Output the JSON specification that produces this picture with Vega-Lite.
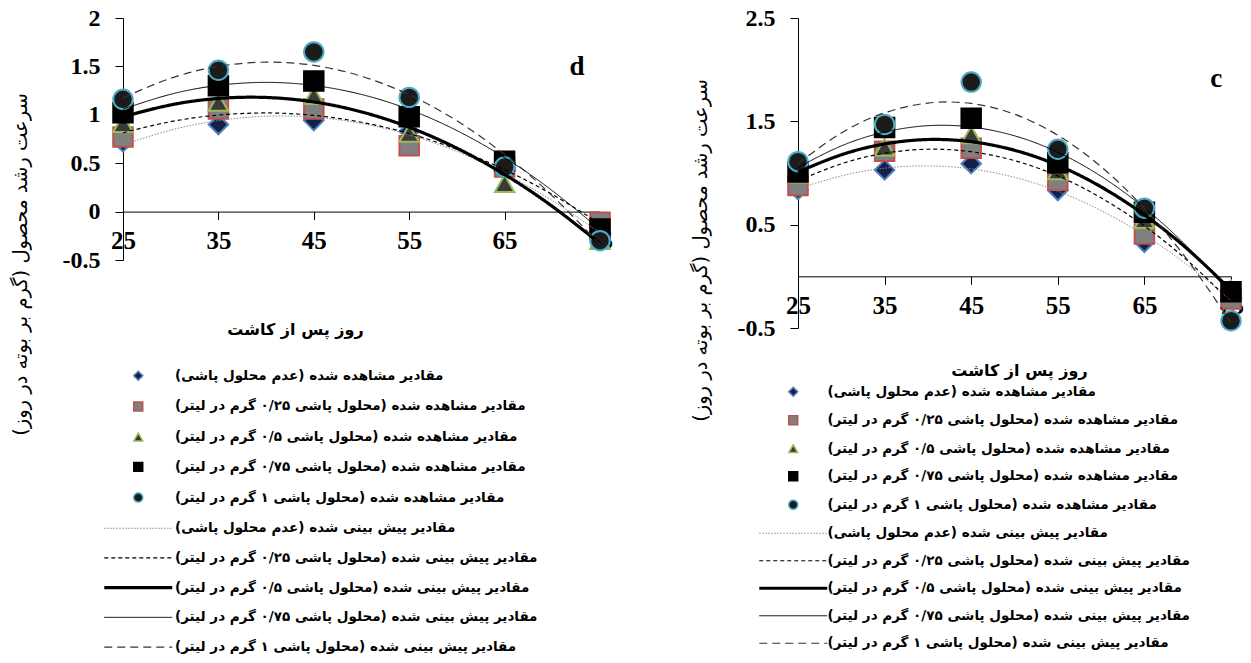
{
  "$schema": "https://vega.github.io/schema/vega-lite/v6.json",
  "padding": {"left": 10, "top": 6, "right": 5, "bottom": 0},
  "spacing": 76,
  "datasets": {
    "obs_d": [
      {"series": "مقادیر مشاهده شده (عدم محلول پاشی)", "day": 25, "value": 0.72},
      {"series": "مقادیر مشاهده شده (عدم محلول پاشی)", "day": 35, "value": 0.90},
      {"series": "مقادیر مشاهده شده (عدم محلول پاشی)", "day": 45, "value": 0.94},
      {"series": "مقادیر مشاهده شده (عدم محلول پاشی)", "day": 55, "value": 0.83},
      {"series": "مقادیر مشاهده شده (عدم محلول پاشی)", "day": 65, "value": 0.43},
      {"series": "مقادیر مشاهده شده (عدم محلول پاشی)", "day": 75, "value": -0.25},
      {"series": "مقادیر مشاهده شده (محلول پاشی ۰/۲۵ گرم در لیتر)", "day": 25, "value": 0.77},
      {"series": "مقادیر مشاهده شده (محلول پاشی ۰/۲۵ گرم در لیتر)", "day": 35, "value": 1.06},
      {"series": "مقادیر مشاهده شده (محلول پاشی ۰/۲۵ گرم در لیتر)", "day": 45, "value": 1.06},
      {"series": "مقادیر مشاهده شده (محلول پاشی ۰/۲۵ گرم در لیتر)", "day": 55, "value": 0.68},
      {"series": "مقادیر مشاهده شده (محلول پاشی ۰/۲۵ گرم در لیتر)", "day": 65, "value": 0.46},
      {"series": "مقادیر مشاهده شده (محلول پاشی ۰/۲۵ گرم در لیتر)", "day": 75, "value": -0.11},
      {"series": "مقادیر مشاهده شده (محلول پاشی ۰/۵ گرم در لیتر)", "day": 25, "value": 0.91},
      {"series": "مقادیر مشاهده شده (محلول پاشی ۰/۵ گرم در لیتر)", "day": 35, "value": 1.13},
      {"series": "مقادیر مشاهده شده (محلول پاشی ۰/۵ گرم در لیتر)", "day": 45, "value": 1.20},
      {"series": "مقادیر مشاهده شده (محلول پاشی ۰/۵ گرم در لیتر)", "day": 55, "value": 0.81},
      {"series": "مقادیر مشاهده شده (محلول پاشی ۰/۵ گرم در لیتر)", "day": 65, "value": 0.29},
      {"series": "مقادیر مشاهده شده (محلول پاشی ۰/۵ گرم در لیتر)", "day": 75, "value": -0.30},
      {"series": "مقادیر مشاهده شده (محلول پاشی ۰/۷۵ گرم در لیتر)", "day": 25, "value": 1.02},
      {"series": "مقادیر مشاهده شده (محلول پاشی ۰/۷۵ گرم در لیتر)", "day": 35, "value": 1.30},
      {"series": "مقادیر مشاهده شده (محلول پاشی ۰/۷۵ گرم در لیتر)", "day": 45, "value": 1.35},
      {"series": "مقادیر مشاهده شده (محلول پاشی ۰/۷۵ گرم در لیتر)", "day": 55, "value": 0.98},
      {"series": "مقادیر مشاهده شده (محلول پاشی ۰/۷۵ گرم در لیتر)", "day": 65, "value": 0.52},
      {"series": "مقادیر مشاهده شده (محلول پاشی ۰/۷۵ گرم در لیتر)", "day": 75, "value": -0.18},
      {"series": "مقادیر مشاهده شده (محلول پاشی ۱ گرم در لیتر)", "day": 25, "value": 1.16},
      {"series": "مقادیر مشاهده شده (محلول پاشی ۱ گرم در لیتر)", "day": 35, "value": 1.46},
      {"series": "مقادیر مشاهده شده (محلول پاشی ۱ گرم در لیتر)", "day": 45, "value": 1.65},
      {"series": "مقادیر مشاهده شده (محلول پاشی ۱ گرم در لیتر)", "day": 55, "value": 1.18},
      {"series": "مقادیر مشاهده شده (محلول پاشی ۱ گرم در لیتر)", "day": 65, "value": 0.46},
      {"series": "مقادیر مشاهده شده (محلول پاشی ۱ گرم در لیتر)", "day": 75, "value": -0.30}
    ],
    "pred_d": [
      {"series": "مقادیر پیش بینی شده (عدم محلول پاشی)", "day": 25, "value": 0.690},
      {"series": "مقادیر پیش بینی شده (عدم محلول پاشی)", "day": 30, "value": 0.842},
      {"series": "مقادیر پیش بینی شده (عدم محلول پاشی)", "day": 35, "value": 0.940},
      {"series": "مقادیر پیش بینی شده (عدم محلول پاشی)", "day": 40, "value": 0.985},
      {"series": "مقادیر پیش بینی شده (عدم محلول پاشی)", "day": 45, "value": 0.975},
      {"series": "مقادیر پیش بینی شده (عدم محلول پاشی)", "day": 50, "value": 0.911},
      {"series": "مقادیر پیش بینی شده (عدم محلول پاشی)", "day": 55, "value": 0.793},
      {"series": "مقادیر پیش بینی شده (عدم محلول پاشی)", "day": 60, "value": 0.621},
      {"series": "مقادیر پیش بینی شده (عدم محلول پاشی)", "day": 65, "value": 0.394},
      {"series": "مقادیر پیش بینی شده (عدم محلول پاشی)", "day": 70, "value": 0.114},
      {"series": "مقادیر پیش بینی شده (عدم محلول پاشی)", "day": 75, "value": -0.220},
      {"series": "مقادیر پیش بینی شده (محلول پاشی ۰/۲۵ گرم در لیتر)", "day": 25, "value": 0.815},
      {"series": "مقادیر پیش بینی شده (محلول پاشی ۰/۲۵ گرم در لیتر)", "day": 30, "value": 0.929},
      {"series": "مقادیر پیش بینی شده (محلول پاشی ۰/۲۵ گرم در لیتر)", "day": 35, "value": 0.997},
      {"series": "مقادیر پیش بینی شده (محلول پاشی ۰/۲۵ گرم در لیتر)", "day": 40, "value": 1.019},
      {"series": "مقادیر پیش بینی شده (محلول پاشی ۰/۲۵ گرم در لیتر)", "day": 45, "value": 0.994},
      {"series": "مقادیر پیش بینی شده (محلول پاشی ۰/۲۵ گرم در لیتر)", "day": 50, "value": 0.923},
      {"series": "مقادیر پیش بینی شده (محلول پاشی ۰/۲۵ گرم در لیتر)", "day": 55, "value": 0.806},
      {"series": "مقادیر پیش بینی شده (محلول پاشی ۰/۲۵ گرم در لیتر)", "day": 60, "value": 0.643},
      {"series": "مقادیر پیش بینی شده (محلول پاشی ۰/۲۵ گرم در لیتر)", "day": 65, "value": 0.433},
      {"series": "مقادیر پیش بینی شده (محلول پاشی ۰/۲۵ گرم در لیتر)", "day": 70, "value": 0.177},
      {"series": "مقادیر پیش بینی شده (محلول پاشی ۰/۲۵ گرم در لیتر)", "day": 75, "value": -0.125},
      {"series": "مقادیر پیش بینی شده (محلول پاشی ۰/۵ گرم در لیتر)", "day": 25, "value": 0.979},
      {"series": "مقادیر پیش بینی شده (محلول پاشی ۰/۵ گرم در لیتر)", "day": 30, "value": 1.102},
      {"series": "مقادیر پیش بینی شده (محلول پاشی ۰/۵ گرم در لیتر)", "day": 35, "value": 1.169},
      {"series": "مقادیر پیش بینی شده (محلول پاشی ۰/۵ گرم در لیتر)", "day": 40, "value": 1.179},
      {"series": "مقادیر پیش بینی شده (محلول پاشی ۰/۵ گرم در لیتر)", "day": 45, "value": 1.133},
      {"series": "مقادیر پیش بینی شده (محلول پاشی ۰/۵ گرم در لیتر)", "day": 50, "value": 1.030},
      {"series": "مقادیر پیش بینی شده (محلول پاشی ۰/۵ گرم در لیتر)", "day": 55, "value": 0.871},
      {"series": "مقادیر پیش بینی شده (محلول پاشی ۰/۵ گرم در لیتر)", "day": 60, "value": 0.655},
      {"series": "مقادیر پیش بینی شده (محلول پاشی ۰/۵ گرم در لیتر)", "day": 65, "value": 0.383},
      {"series": "مقادیر پیش بینی شده (محلول پاشی ۰/۵ گرم در لیتر)", "day": 70, "value": 0.054},
      {"series": "مقادیر پیش بینی شده (محلول پاشی ۰/۵ گرم در لیتر)", "day": 75, "value": -0.331},
      {"series": "مقادیر پیش بینی شده (محلول پاشی ۰/۷۵ گرم در لیتر)", "day": 25, "value": 1.058},
      {"series": "مقادیر پیش بینی شده (محلول پاشی ۰/۷۵ گرم در لیتر)", "day": 30, "value": 1.212},
      {"series": "مقادیر پیش بینی شده (محلول پاشی ۰/۷۵ گرم در لیتر)", "day": 35, "value": 1.304},
      {"series": "مقادیر پیش بینی شده (محلول پاشی ۰/۷۵ گرم در لیتر)", "day": 40, "value": 1.335},
      {"series": "مقادیر پیش بینی شده (محلول پاشی ۰/۷۵ گرم در لیتر)", "day": 45, "value": 1.303},
      {"series": "مقادیر پیش بینی شده (محلول پاشی ۰/۷۵ گرم در لیتر)", "day": 50, "value": 1.210},
      {"series": "مقادیر پیش بینی شده (محلول پاشی ۰/۷۵ گرم در لیتر)", "day": 55, "value": 1.055},
      {"series": "مقادیر پیش بینی شده (محلول پاشی ۰/۷۵ گرم در لیتر)", "day": 60, "value": 0.837},
      {"series": "مقادیر پیش بینی شده (محلول پاشی ۰/۷۵ گرم در لیتر)", "day": 65, "value": 0.558},
      {"series": "مقادیر پیش بینی شده (محلول پاشی ۰/۷۵ گرم در لیتر)", "day": 70, "value": 0.216},
      {"series": "مقادیر پیش بینی شده (محلول پاشی ۰/۷۵ گرم در لیتر)", "day": 75, "value": -0.186},
      {"series": "مقادیر پیش بینی شده (محلول پاشی ۱ گرم در لیتر)", "day": 25, "value": 1.175},
      {"series": "مقادیر پیش بینی شده (محلول پاشی ۱ گرم در لیتر)", "day": 30, "value": 1.377},
      {"series": "مقادیر پیش بینی شده (محلول پاشی ۱ گرم در لیتر)", "day": 35, "value": 1.500},
      {"series": "مقادیر پیش بینی شده (محلول پاشی ۱ گرم در لیتر)", "day": 40, "value": 1.544},
      {"series": "مقادیر پیش بینی شده (محلول پاشی ۱ گرم در لیتر)", "day": 45, "value": 1.511},
      {"series": "مقادیر پیش بینی شده (محلول پاشی ۱ گرم در لیتر)", "day": 50, "value": 1.398},
      {"series": "مقادیر پیش بینی شده (محلول پاشی ۱ گرم در لیتر)", "day": 55, "value": 1.207},
      {"series": "مقادیر پیش بینی شده (محلول پاشی ۱ گرم در لیتر)", "day": 60, "value": 0.938},
      {"series": "مقادیر پیش بینی شده (محلول پاشی ۱ گرم در لیتر)", "day": 65, "value": 0.590},
      {"series": "مقادیر پیش بینی شده (محلول پاشی ۱ گرم در لیتر)", "day": 70, "value": 0.163},
      {"series": "مقادیر پیش بینی شده (محلول پاشی ۱ گرم در لیتر)", "day": 75, "value": -0.342}
    ],
    "obs_c": [
      {"series": "مقادیر مشاهده شده (عدم محلول پاشی)", "day": 25, "value": 0.84},
      {"series": "مقادیر مشاهده شده (عدم محلول پاشی)", "day": 35, "value": 1.03},
      {"series": "مقادیر مشاهده شده (عدم محلول پاشی)", "day": 45, "value": 1.09},
      {"series": "مقادیر مشاهده شده (عدم محلول پاشی)", "day": 55, "value": 0.83},
      {"series": "مقادیر مشاهده شده (عدم محلول پاشی)", "day": 65, "value": 0.33},
      {"series": "مقادیر مشاهده شده (عدم محلول پاشی)", "day": 75, "value": -0.20},
      {"series": "مقادیر مشاهده شده (محلول پاشی ۰/۲۵ گرم در لیتر)", "day": 25, "value": 0.88},
      {"series": "مقادیر مشاهده شده (محلول پاشی ۰/۲۵ گرم در لیتر)", "day": 35, "value": 1.21},
      {"series": "مقادیر مشاهده شده (محلول پاشی ۰/۲۵ گرم در لیتر)", "day": 45, "value": 1.24},
      {"series": "مقادیر مشاهده شده (محلول پاشی ۰/۲۵ گرم در لیتر)", "day": 55, "value": 0.93},
      {"series": "مقادیر مشاهده شده (محلول پاشی ۰/۲۵ گرم در لیتر)", "day": 65, "value": 0.41},
      {"series": "مقادیر مشاهده شده (محلول پاشی ۰/۲۵ گرم در لیتر)", "day": 75, "value": -0.22},
      {"series": "مقادیر مشاهده شده (محلول پاشی ۰/۵ گرم در لیتر)", "day": 25, "value": 0.99},
      {"series": "مقادیر مشاهده شده (محلول پاشی ۰/۵ گرم در لیتر)", "day": 35, "value": 1.25},
      {"series": "مقادیر مشاهده شده (محلول پاشی ۰/۵ گرم در لیتر)", "day": 45, "value": 1.37},
      {"series": "مقادیر مشاهده شده (محلول پاشی ۰/۵ گرم در لیتر)", "day": 55, "value": 1.02},
      {"series": "مقادیر مشاهده شده (محلول پاشی ۰/۵ گرم در لیتر)", "day": 65, "value": 0.55},
      {"series": "مقادیر مشاهده شده (محلول پاشی ۰/۵ گرم در لیتر)", "day": 75, "value": -0.12},
      {"series": "مقادیر مشاهده شده (محلول پاشی ۰/۷۵ گرم در لیتر)", "day": 25, "value": 1.01},
      {"series": "مقادیر مشاهده شده (محلول پاشی ۰/۷۵ گرم در لیتر)", "day": 35, "value": 1.44},
      {"series": "مقادیر مشاهده شده (محلول پاشی ۰/۷۵ گرم در لیتر)", "day": 45, "value": 1.53},
      {"series": "مقادیر مشاهده شده (محلول پاشی ۰/۷۵ گرم در لیتر)", "day": 55, "value": 1.10},
      {"series": "مقادیر مشاهده شده (محلول پاشی ۰/۷۵ گرم در لیتر)", "day": 65, "value": 0.62},
      {"series": "مقادیر مشاهده شده (محلول پاشی ۰/۷۵ گرم در لیتر)", "day": 75, "value": -0.15},
      {"series": "مقادیر مشاهده شده (محلول پاشی ۱ گرم در لیتر)", "day": 25, "value": 1.11},
      {"series": "مقادیر مشاهده شده (محلول پاشی ۱ گرم در لیتر)", "day": 35, "value": 1.47},
      {"series": "مقادیر مشاهده شده (محلول پاشی ۱ گرم در لیتر)", "day": 45, "value": 1.88},
      {"series": "مقادیر مشاهده شده (محلول پاشی ۱ گرم در لیتر)", "day": 55, "value": 1.23},
      {"series": "مقادیر مشاهده شده (محلول پاشی ۱ گرم در لیتر)", "day": 65, "value": 0.66},
      {"series": "مقادیر مشاهده شده (محلول پاشی ۱ گرم در لیتر)", "day": 75, "value": -0.43}
    ],
    "pred_c": [
      {"series": "مقادیر پیش بینی شده (عدم محلول پاشی)", "day": 25, "value": 0.846},
      {"series": "مقادیر پیش بینی شده (عدم محلول پاشی)", "day": 30, "value": 0.972},
      {"series": "مقادیر پیش بینی شده (عدم محلول پاشی)", "day": 35, "value": 1.047},
      {"series": "مقادیر پیش بینی شده (عدم محلول پاشی)", "day": 40, "value": 1.069},
      {"series": "مقادیر پیش بینی شده (عدم محلول پاشی)", "day": 45, "value": 1.040},
      {"series": "مقادیر پیش بینی شده (عدم محلول پاشی)", "day": 50, "value": 0.958},
      {"series": "مقادیر پیش بینی شده (عدم محلول پاشی)", "day": 55, "value": 0.824},
      {"series": "مقادیر پیش بینی شده (عدم محلول پاشی)", "day": 60, "value": 0.637},
      {"series": "مقادیر پیش بینی شده (عدم محلول پاشی)", "day": 65, "value": 0.399},
      {"series": "مقادیر پیش بینی شده (عدم محلول پاشی)", "day": 70, "value": 0.108},
      {"series": "مقادیر پیش بینی شده (عدم محلول پاشی)", "day": 75, "value": -0.235},
      {"series": "مقادیر پیش بینی شده (محلول پاشی ۰/۲۵ گرم در لیتر)", "day": 25, "value": 0.925},
      {"series": "مقادیر پیش بینی شده (محلول پاشی ۰/۲۵ گرم در لیتر)", "day": 30, "value": 1.089},
      {"series": "مقادیر پیش بینی شده (محلول پاشی ۰/۲۵ گرم در لیتر)", "day": 35, "value": 1.191},
      {"series": "مقادیر پیش بینی شده (محلول پاشی ۰/۲۵ گرم در لیتر)", "day": 40, "value": 1.230},
      {"series": "مقادیر پیش بینی شده (محلول پاشی ۰/۲۵ گرم در لیتر)", "day": 45, "value": 1.206},
      {"series": "مقادیر پیش بینی شده (محلول پاشی ۰/۲۵ گرم در لیتر)", "day": 50, "value": 1.120},
      {"series": "مقادیر پیش بینی شده (محلول پاشی ۰/۲۵ گرم در لیتر)", "day": 55, "value": 0.972},
      {"series": "مقادیر پیش بینی شده (محلول پاشی ۰/۲۵ گرم در لیتر)", "day": 60, "value": 0.760},
      {"series": "مقادیر پیش بینی شده (محلول پاشی ۰/۲۵ گرم در لیتر)", "day": 65, "value": 0.487},
      {"series": "مقادیر پیش بینی شده (محلول پاشی ۰/۲۵ گرم در لیتر)", "day": 70, "value": 0.151},
      {"series": "مقادیر پیش بینی شده (محلول پاشی ۰/۲۵ گرم در لیتر)", "day": 75, "value": -0.248},
      {"series": "مقادیر پیش بینی شده (محلول پاشی ۰/۵ گرم در لیتر)", "day": 25, "value": 1.009},
      {"series": "مقادیر پیش بینی شده (محلول پاشی ۰/۵ گرم در لیتر)", "day": 30, "value": 1.176},
      {"series": "مقادیر پیش بینی شده (محلول پاشی ۰/۵ گرم در لیتر)", "day": 35, "value": 1.281},
      {"series": "مقادیر پیش بینی شده (محلول پاشی ۰/۵ گرم در لیتر)", "day": 40, "value": 1.324},
      {"series": "مقادیر پیش بینی شده (محلول پاشی ۰/۵ گرم در لیتر)", "day": 45, "value": 1.303},
      {"series": "مقادیر پیش بینی شده (محلول پاشی ۰/۵ گرم در لیتر)", "day": 50, "value": 1.220},
      {"series": "مقادیر پیش بینی شده (محلول پاشی ۰/۵ گرم در لیتر)", "day": 55, "value": 1.075},
      {"series": "مقادیر پیش بینی شده (محلول پاشی ۰/۵ گرم در لیتر)", "day": 60, "value": 0.866},
      {"series": "مقادیر پیش بینی شده (محلول پاشی ۰/۵ گرم در لیتر)", "day": 65, "value": 0.595},
      {"series": "مقادیر پیش بینی شده (محلول پاشی ۰/۵ گرم در لیتر)", "day": 70, "value": 0.262},
      {"series": "مقادیر پیش بینی شده (محلول پاشی ۰/۵ گرم در لیتر)", "day": 75, "value": -0.134},
      {"series": "مقادیر پیش بینی شده (محلول پاشی ۰/۷۵ گرم در لیتر)", "day": 25, "value": 1.053},
      {"series": "مقادیر پیش بینی شده (محلول پاشی ۰/۷۵ گرم در لیتر)", "day": 30, "value": 1.262},
      {"series": "مقادیر پیش بینی شده (محلول پاشی ۰/۷۵ گرم در لیتر)", "day": 35, "value": 1.396},
      {"series": "مقادیر پیش بینی شده (محلول پاشی ۰/۷۵ گرم در لیتر)", "day": 40, "value": 1.458},
      {"series": "مقادیر پیش بینی شده (محلول پاشی ۰/۷۵ گرم در لیتر)", "day": 45, "value": 1.445},
      {"series": "مقادیر پیش بینی شده (محلول پاشی ۰/۷۵ گرم در لیتر)", "day": 50, "value": 1.360},
      {"series": "مقادیر پیش بینی شده (محلول پاشی ۰/۷۵ گرم در لیتر)", "day": 55, "value": 1.201},
      {"series": "مقادیر پیش بینی شده (محلول پاشی ۰/۷۵ گرم در لیتر)", "day": 60, "value": 0.968},
      {"series": "مقادیر پیش بینی شده (محلول پاشی ۰/۷۵ گرم در لیتر)", "day": 65, "value": 0.662},
      {"series": "مقادیر پیش بینی شده (محلول پاشی ۰/۷۵ گرم در لیتر)", "day": 70, "value": 0.282},
      {"series": "مقادیر پیش بینی شده (محلول پاشی ۰/۷۵ گرم در لیتر)", "day": 75, "value": -0.171},
      {"series": "مقادیر پیش بینی شده (محلول پاشی ۱ گرم در لیتر)", "day": 25, "value": 1.092},
      {"series": "مقادیر پیش بینی شده (محلول پاشی ۱ گرم در لیتر)", "day": 30, "value": 1.387},
      {"series": "مقادیر پیش بینی شده (محلول پاشی ۱ گرم در لیتر)", "day": 35, "value": 1.582},
      {"series": "مقادیر پیش بینی شده (محلول پاشی ۱ گرم در لیتر)", "day": 40, "value": 1.677},
      {"series": "مقادیر پیش بینی شده (محلول پاشی ۱ گرم در لیتر)", "day": 45, "value": 1.673},
      {"series": "مقادیر پیش بینی شده (محلول پاشی ۱ گرم در لیتر)", "day": 50, "value": 1.569},
      {"series": "مقادیر پیش بینی شده (محلول پاشی ۱ گرم در لیتر)", "day": 55, "value": 1.365},
      {"series": "مقادیر پیش بینی شده (محلول پاشی ۱ گرم در لیتر)", "day": 60, "value": 1.061},
      {"series": "مقادیر پیش بینی شده (محلول پاشی ۱ گرم در لیتر)", "day": 65, "value": 0.658},
      {"series": "مقادیر پیش بینی شده (محلول پاشی ۱ گرم در لیتر)", "day": 70, "value": 0.155},
      {"series": "مقادیر پیش بینی شده (محلول پاشی ۱ گرم در لیتر)", "day": 75, "value": -0.449}
    ]
  },
  "hconcat": [
    {
      "width": 477,
      "height": 242,
      "encoding": {
        "x": {"field": "day", "type": "quantitative", "scale": {"domain": [25, 75], "nice": false, "zero": false},
          "axis": {"values": [25, 35, 45, 55, 65, 75], "offset": -48.4, "title": "روز پس از کاشت", "titleX": 172, "titleY": 118, "titleBaseline": "middle", "titleFont": "DejaVu Sans", "titleFontSize": 16, "titleFontWeight": "bold", "labelFontSize": 25, "tickSize": 8, "labelPadding": 9, "labelFlush": false, "labelOverlap": false}},
        "y": {"field": "value", "type": "quantitative", "scale": {"domain": [-0.5, 2], "nice": false, "zero": false},
          "axis": {"values": [-0.5, 0, 0.5, 1, 1.5, 2], "labelExpr": "'' + datum.value", "title": "سرعت رشد محصول (گرم بر بوته در روز)", "titleX": -103, "titleY": 246, "titleAngle": 270, "titleBaseline": "middle", "titleAlign": "center", "titleFont": "DejaVu Sans", "titleFontSize": 19.5, "titleFontWeight": "normal", "labelFontSize": 24, "tickSize": 8, "labelPadding": 15, "labelFlush": false, "labelOverlap": false}}
      },
      "layer": [
        {
          "data": {"name": "obs_d"},
          "mark": {"type": "point", "size": 380, "strokeWidth": 2, "opacity": 1},
          "encoding": {
            "shape": {"field": "series", "type": "nominal", "scale": {"domain": ["مقادیر مشاهده شده (عدم محلول پاشی)", "مقادیر مشاهده شده (محلول پاشی ۰/۲۵ گرم در لیتر)", "مقادیر مشاهده شده (محلول پاشی ۰/۵ گرم در لیتر)", "مقادیر مشاهده شده (محلول پاشی ۰/۷۵ گرم در لیتر)", "مقادیر مشاهده شده (محلول پاشی ۱ گرم در لیتر)", "مقادیر پیش بینی شده (عدم محلول پاشی)", "مقادیر پیش بینی شده (محلول پاشی ۰/۲۵ گرم در لیتر)", "مقادیر پیش بینی شده (محلول پاشی ۰/۵ گرم در لیتر)", "مقادیر پیش بینی شده (محلول پاشی ۰/۷۵ گرم در لیتر)", "مقادیر پیش بینی شده (محلول پاشی ۱ گرم در لیتر)"], "range": ["diamond", "square", "triangle-up", "square", "circle", "M-7.6,0H7.6", "M-7.6,0H7.6", "M-7.6,0H7.6", "M-7.6,0H7.6", "M-7.6,0H7.6"]},
              "legend": {"title": null, "orient": "none", "legendX": 8.5, "legendY": 351, "direction": "vertical", "padding": 0, "symbolSize": 80, "rowPadding": 14.7, "labelOffset": 30, "labelFont": "DejaVu Sans", "labelFontSize": 13.5, "labelFontWeight": "bold", "labelColor": "black", "labelLimit": 1000, "symbolLimit": 20}},
            "fill": {"field": "series", "type": "nominal", "scale": {"domain": ["مقادیر مشاهده شده (عدم محلول پاشی)", "مقادیر مشاهده شده (محلول پاشی ۰/۲۵ گرم در لیتر)", "مقادیر مشاهده شده (محلول پاشی ۰/۵ گرم در لیتر)", "مقادیر مشاهده شده (محلول پاشی ۰/۷۵ گرم در لیتر)", "مقادیر مشاهده شده (محلول پاشی ۱ گرم در لیتر)", "مقادیر پیش بینی شده (عدم محلول پاشی)", "مقادیر پیش بینی شده (محلول پاشی ۰/۲۵ گرم در لیتر)", "مقادیر پیش بینی شده (محلول پاشی ۰/۵ گرم در لیتر)", "مقادیر پیش بینی شده (محلول پاشی ۰/۷۵ گرم در لیتر)", "مقادیر پیش بینی شده (محلول پاشی ۱ گرم در لیتر)"], "range": ["#13204a", "#808080", "#3a3a3a", "#000000", "#1b1b1b", "transparent", "transparent", "transparent", "transparent", "transparent"]},
              "legend": {"title": null, "orient": "none", "legendX": 8.5, "legendY": 351, "direction": "vertical", "padding": 0, "symbolSize": 80, "rowPadding": 14.7, "labelOffset": 30, "labelFont": "DejaVu Sans", "labelFontSize": 13.5, "labelFontWeight": "bold", "labelColor": "black", "labelLimit": 1000, "symbolLimit": 20}},
            "stroke": {"field": "series", "type": "nominal", "scale": {"domain": ["مقادیر مشاهده شده (عدم محلول پاشی)", "مقادیر مشاهده شده (محلول پاشی ۰/۲۵ گرم در لیتر)", "مقادیر مشاهده شده (محلول پاشی ۰/۵ گرم در لیتر)", "مقادیر مشاهده شده (محلول پاشی ۰/۷۵ گرم در لیتر)", "مقادیر مشاهده شده (محلول پاشی ۱ گرم در لیتر)", "مقادیر پیش بینی شده (عدم محلول پاشی)", "مقادیر پیش بینی شده (محلول پاشی ۰/۲۵ گرم در لیتر)", "مقادیر پیش بینی شده (محلول پاشی ۰/۵ گرم در لیتر)", "مقادیر پیش بینی شده (محلول پاشی ۰/۷۵ گرم در لیتر)", "مقادیر پیش بینی شده (محلول پاشی ۱ گرم در لیتر)"], "range": ["#4f81bd", "#c0504d", "#9bbb59", "#000000", "#4bacc6", "#8c8c8c", "#000000", "#000000", "#000000", "#333333"]},
              "legend": {"title": null, "orient": "none", "legendX": 8.5, "legendY": 351, "direction": "vertical", "padding": 0, "symbolSize": 80, "rowPadding": 14.7, "labelOffset": 30, "labelFont": "DejaVu Sans", "labelFontSize": 13.5, "labelFontWeight": "bold", "labelColor": "black", "labelLimit": 1000, "symbolLimit": 20}}
          }
        },
        {
          "data": {"name": "pred_d"},
          "mark": {"type": "line", "interpolate": "natural"},
          "encoding": {
            "stroke": {"field": "series", "type": "nominal", "scale": {"domain": ["مقادیر مشاهده شده (عدم محلول پاشی)", "مقادیر مشاهده شده (محلول پاشی ۰/۲۵ گرم در لیتر)", "مقادیر مشاهده شده (محلول پاشی ۰/۵ گرم در لیتر)", "مقادیر مشاهده شده (محلول پاشی ۰/۷۵ گرم در لیتر)", "مقادیر مشاهده شده (محلول پاشی ۱ گرم در لیتر)", "مقادیر پیش بینی شده (عدم محلول پاشی)", "مقادیر پیش بینی شده (محلول پاشی ۰/۲۵ گرم در لیتر)", "مقادیر پیش بینی شده (محلول پاشی ۰/۵ گرم در لیتر)", "مقادیر پیش بینی شده (محلول پاشی ۰/۷۵ گرم در لیتر)", "مقادیر پیش بینی شده (محلول پاشی ۱ گرم در لیتر)"], "range": ["#4f81bd", "#c0504d", "#9bbb59", "#000000", "#4bacc6", "#8c8c8c", "#000000", "#000000", "#000000", "#333333"]},
              "legend": {"title": null, "orient": "none", "legendX": 8.5, "legendY": 351, "direction": "vertical", "padding": 0, "symbolSize": 80, "rowPadding": 14.7, "labelOffset": 30, "labelFont": "DejaVu Sans", "labelFontSize": 13.5, "labelFontWeight": "bold", "labelColor": "black", "labelLimit": 1000, "symbolLimit": 20}},
            "strokeDash": {"field": "series", "type": "nominal", "scale": {"domain": ["مقادیر مشاهده شده (عدم محلول پاشی)", "مقادیر مشاهده شده (محلول پاشی ۰/۲۵ گرم در لیتر)", "مقادیر مشاهده شده (محلول پاشی ۰/۵ گرم در لیتر)", "مقادیر مشاهده شده (محلول پاشی ۰/۷۵ گرم در لیتر)", "مقادیر مشاهده شده (محلول پاشی ۱ گرم در لیتر)", "مقادیر پیش بینی شده (عدم محلول پاشی)", "مقادیر پیش بینی شده (محلول پاشی ۰/۲۵ گرم در لیتر)", "مقادیر پیش بینی شده (محلول پاشی ۰/۵ گرم در لیتر)", "مقادیر پیش بینی شده (محلول پاشی ۰/۷۵ گرم در لیتر)", "مقادیر پیش بینی شده (محلول پاشی ۱ گرم در لیتر)"], "range": [[1, 0], [1, 0], [1, 0], [1, 0], [1, 0], [1.5, 1.5], [4, 3], [1, 0], [1, 0], [8, 5]]},
              "legend": {"title": null, "orient": "none", "legendX": 8.5, "legendY": 351, "direction": "vertical", "padding": 0, "symbolSize": 80, "rowPadding": 14.7, "labelOffset": 30, "labelFont": "DejaVu Sans", "labelFontSize": 13.5, "labelFontWeight": "bold", "labelColor": "black", "labelLimit": 1000, "symbolLimit": 20}},
            "strokeWidth": {"field": "series", "type": "nominal", "scale": {"type": "ordinal", "domain": ["مقادیر مشاهده شده (عدم محلول پاشی)", "مقادیر مشاهده شده (محلول پاشی ۰/۲۵ گرم در لیتر)", "مقادیر مشاهده شده (محلول پاشی ۰/۵ گرم در لیتر)", "مقادیر مشاهده شده (محلول پاشی ۰/۷۵ گرم در لیتر)", "مقادیر مشاهده شده (محلول پاشی ۱ گرم در لیتر)", "مقادیر پیش بینی شده (عدم محلول پاشی)", "مقادیر پیش بینی شده (محلول پاشی ۰/۲۵ گرم در لیتر)", "مقادیر پیش بینی شده (محلول پاشی ۰/۵ گرم در لیتر)", "مقادیر پیش بینی شده (محلول پاشی ۰/۷۵ گرم در لیتر)", "مقادیر پیش بینی شده (محلول پاشی ۱ گرم در لیتر)"], "range": [1.5, 1.5, 1.5, 1.5, 1.5, 1, 1.2, 3.2, 1, 1.2]},
              "legend": {"title": null, "orient": "none", "legendX": 8.5, "legendY": 351, "direction": "vertical", "padding": 0, "symbolSize": 80, "rowPadding": 14.7, "labelOffset": 30, "labelFont": "DejaVu Sans", "labelFontSize": 13.5, "labelFontWeight": "bold", "labelColor": "black", "labelLimit": 1000, "symbolLimit": 20}}
          }
        },
        {
          "data": {"values": [{"day": 72.6, "value": 1.49, "label": "d"}]},
          "mark": {"type": "text", "font": "Liberation Serif", "fontWeight": "bold", "fontSize": 27, "color": "black"},
          "encoding": {"text": {"field": "label", "type": "nominal"}}
        }
      ]
    },
    {
      "width": 433,
      "height": 310,
      "encoding": {
        "x": {"field": "day", "type": "quantitative", "scale": {"domain": [25, 75], "nice": false, "zero": false},
          "axis": {"values": [25, 35, 45, 55, 65, 75], "offset": -51.67, "title": "روز پس از کاشت", "titleX": 221, "titleY": 94, "titleBaseline": "middle", "titleFont": "DejaVu Sans", "titleFontSize": 16, "titleFontWeight": "bold", "labelFontSize": 25, "tickSize": 8, "labelPadding": 9, "labelFlush": false, "labelOverlap": false}},
        "y": {"field": "value", "type": "quantitative", "scale": {"domain": [-0.5, 2.5], "nice": false, "zero": false},
          "axis": {"values": [-0.5, 0.5, 1.5, 2.5], "labelExpr": "'' + datum.value", "title": "سرعت رشد محصول (گرم بر بوته در روز)", "titleX": -98, "titleY": 232, "titleAngle": 270, "titleBaseline": "middle", "titleAlign": "center", "titleFont": "DejaVu Sans", "titleFontSize": 19.5, "titleFontWeight": "normal", "labelFontSize": 24, "tickSize": 8, "labelPadding": 15, "labelFlush": false, "labelOverlap": false}}
      },
      "layer": [
        {
          "data": {"name": "obs_c"},
          "mark": {"type": "point", "size": 380, "strokeWidth": 2, "opacity": 1},
          "encoding": {
            "shape": {"field": "series", "type": "nominal", "scale": {"domain": ["مقادیر مشاهده شده (عدم محلول پاشی)", "مقادیر مشاهده شده (محلول پاشی ۰/۲۵ گرم در لیتر)", "مقادیر مشاهده شده (محلول پاشی ۰/۵ گرم در لیتر)", "مقادیر مشاهده شده (محلول پاشی ۰/۷۵ گرم در لیتر)", "مقادیر مشاهده شده (محلول پاشی ۱ گرم در لیتر)", "مقادیر پیش بینی شده (عدم محلول پاشی)", "مقادیر پیش بینی شده (محلول پاشی ۰/۲۵ گرم در لیتر)", "مقادیر پیش بینی شده (محلول پاشی ۰/۵ گرم در لیتر)", "مقادیر پیش بینی شده (محلول پاشی ۰/۷۵ گرم در لیتر)", "مقادیر پیش بینی شده (محلول پاشی ۱ گرم در لیتر)"], "range": ["diamond", "square", "triangle-up", "square", "circle", "M-7.6,0H7.6", "M-7.6,0H7.6", "M-7.6,0H7.6", "M-7.6,0H7.6", "M-7.6,0H7.6"]},
              "legend": {"title": null, "orient": "none", "legendX": -11.5, "legendY": 367, "direction": "vertical", "padding": 0, "symbolSize": 80, "rowPadding": 12.5, "labelOffset": 27.5, "labelFont": "DejaVu Sans", "labelFontSize": 13.5, "labelFontWeight": "bold", "labelColor": "black", "labelLimit": 1000, "symbolLimit": 20}},
            "fill": {"field": "series", "type": "nominal", "scale": {"domain": ["مقادیر مشاهده شده (عدم محلول پاشی)", "مقادیر مشاهده شده (محلول پاشی ۰/۲۵ گرم در لیتر)", "مقادیر مشاهده شده (محلول پاشی ۰/۵ گرم در لیتر)", "مقادیر مشاهده شده (محلول پاشی ۰/۷۵ گرم در لیتر)", "مقادیر مشاهده شده (محلول پاشی ۱ گرم در لیتر)", "مقادیر پیش بینی شده (عدم محلول پاشی)", "مقادیر پیش بینی شده (محلول پاشی ۰/۲۵ گرم در لیتر)", "مقادیر پیش بینی شده (محلول پاشی ۰/۵ گرم در لیتر)", "مقادیر پیش بینی شده (محلول پاشی ۰/۷۵ گرم در لیتر)", "مقادیر پیش بینی شده (محلول پاشی ۱ گرم در لیتر)"], "range": ["#13204a", "#808080", "#3a3a3a", "#000000", "#1b1b1b", "transparent", "transparent", "transparent", "transparent", "transparent"]},
              "legend": {"title": null, "orient": "none", "legendX": -11.5, "legendY": 367, "direction": "vertical", "padding": 0, "symbolSize": 80, "rowPadding": 12.5, "labelOffset": 27.5, "labelFont": "DejaVu Sans", "labelFontSize": 13.5, "labelFontWeight": "bold", "labelColor": "black", "labelLimit": 1000, "symbolLimit": 20}},
            "stroke": {"field": "series", "type": "nominal", "scale": {"domain": ["مقادیر مشاهده شده (عدم محلول پاشی)", "مقادیر مشاهده شده (محلول پاشی ۰/۲۵ گرم در لیتر)", "مقادیر مشاهده شده (محلول پاشی ۰/۵ گرم در لیتر)", "مقادیر مشاهده شده (محلول پاشی ۰/۷۵ گرم در لیتر)", "مقادیر مشاهده شده (محلول پاشی ۱ گرم در لیتر)", "مقادیر پیش بینی شده (عدم محلول پاشی)", "مقادیر پیش بینی شده (محلول پاشی ۰/۲۵ گرم در لیتر)", "مقادیر پیش بینی شده (محلول پاشی ۰/۵ گرم در لیتر)", "مقادیر پیش بینی شده (محلول پاشی ۰/۷۵ گرم در لیتر)", "مقادیر پیش بینی شده (محلول پاشی ۱ گرم در لیتر)"], "range": ["#4f81bd", "#c0504d", "#9bbb59", "#000000", "#4bacc6", "#8c8c8c", "#000000", "#000000", "#000000", "#333333"]},
              "legend": {"title": null, "orient": "none", "legendX": -11.5, "legendY": 367, "direction": "vertical", "padding": 0, "symbolSize": 80, "rowPadding": 12.5, "labelOffset": 27.5, "labelFont": "DejaVu Sans", "labelFontSize": 13.5, "labelFontWeight": "bold", "labelColor": "black", "labelLimit": 1000, "symbolLimit": 20}}
          }
        },
        {
          "data": {"name": "pred_c"},
          "mark": {"type": "line", "interpolate": "natural"},
          "encoding": {
            "stroke": {"field": "series", "type": "nominal", "scale": {"domain": ["مقادیر مشاهده شده (عدم محلول پاشی)", "مقادیر مشاهده شده (محلول پاشی ۰/۲۵ گرم در لیتر)", "مقادیر مشاهده شده (محلول پاشی ۰/۵ گرم در لیتر)", "مقادیر مشاهده شده (محلول پاشی ۰/۷۵ گرم در لیتر)", "مقادیر مشاهده شده (محلول پاشی ۱ گرم در لیتر)", "مقادیر پیش بینی شده (عدم محلول پاشی)", "مقادیر پیش بینی شده (محلول پاشی ۰/۲۵ گرم در لیتر)", "مقادیر پیش بینی شده (محلول پاشی ۰/۵ گرم در لیتر)", "مقادیر پیش بینی شده (محلول پاشی ۰/۷۵ گرم در لیتر)", "مقادیر پیش بینی شده (محلول پاشی ۱ گرم در لیتر)"], "range": ["#4f81bd", "#c0504d", "#9bbb59", "#000000", "#4bacc6", "#8c8c8c", "#000000", "#000000", "#000000", "#333333"]},
              "legend": {"title": null, "orient": "none", "legendX": -11.5, "legendY": 367, "direction": "vertical", "padding": 0, "symbolSize": 80, "rowPadding": 12.5, "labelOffset": 27.5, "labelFont": "DejaVu Sans", "labelFontSize": 13.5, "labelFontWeight": "bold", "labelColor": "black", "labelLimit": 1000, "symbolLimit": 20}},
            "strokeDash": {"field": "series", "type": "nominal", "scale": {"domain": ["مقادیر مشاهده شده (عدم محلول پاشی)", "مقادیر مشاهده شده (محلول پاشی ۰/۲۵ گرم در لیتر)", "مقادیر مشاهده شده (محلول پاشی ۰/۵ گرم در لیتر)", "مقادیر مشاهده شده (محلول پاشی ۰/۷۵ گرم در لیتر)", "مقادیر مشاهده شده (محلول پاشی ۱ گرم در لیتر)", "مقادیر پیش بینی شده (عدم محلول پاشی)", "مقادیر پیش بینی شده (محلول پاشی ۰/۲۵ گرم در لیتر)", "مقادیر پیش بینی شده (محلول پاشی ۰/۵ گرم در لیتر)", "مقادیر پیش بینی شده (محلول پاشی ۰/۷۵ گرم در لیتر)", "مقادیر پیش بینی شده (محلول پاشی ۱ گرم در لیتر)"], "range": [[1, 0], [1, 0], [1, 0], [1, 0], [1, 0], [1.5, 1.5], [4, 3], [1, 0], [1, 0], [8, 5]]},
              "legend": {"title": null, "orient": "none", "legendX": -11.5, "legendY": 367, "direction": "vertical", "padding": 0, "symbolSize": 80, "rowPadding": 12.5, "labelOffset": 27.5, "labelFont": "DejaVu Sans", "labelFontSize": 13.5, "labelFontWeight": "bold", "labelColor": "black", "labelLimit": 1000, "symbolLimit": 20}},
            "strokeWidth": {"field": "series", "type": "nominal", "scale": {"type": "ordinal", "domain": ["مقادیر مشاهده شده (عدم محلول پاشی)", "مقادیر مشاهده شده (محلول پاشی ۰/۲۵ گرم در لیتر)", "مقادیر مشاهده شده (محلول پاشی ۰/۵ گرم در لیتر)", "مقادیر مشاهده شده (محلول پاشی ۰/۷۵ گرم در لیتر)", "مقادیر مشاهده شده (محلول پاشی ۱ گرم در لیتر)", "مقادیر پیش بینی شده (عدم محلول پاشی)", "مقادیر پیش بینی شده (محلول پاشی ۰/۲۵ گرم در لیتر)", "مقادیر پیش بینی شده (محلول پاشی ۰/۵ گرم در لیتر)", "مقادیر پیش بینی شده (محلول پاشی ۰/۷۵ گرم در لیتر)", "مقادیر پیش بینی شده (محلول پاشی ۱ گرم در لیتر)"], "range": [1.5, 1.5, 1.5, 1.5, 1.5, 1, 1.2, 3.2, 1, 1.2]},
              "legend": {"title": null, "orient": "none", "legendX": -11.5, "legendY": 367, "direction": "vertical", "padding": 0, "symbolSize": 80, "rowPadding": 12.5, "labelOffset": 27.5, "labelFont": "DejaVu Sans", "labelFontSize": 13.5, "labelFontWeight": "bold", "labelColor": "black", "labelLimit": 1000, "symbolLimit": 20}}
          }
        },
        {
          "data": {"values": [{"day": 73.3, "value": 1.91, "label": "c"}]},
          "mark": {"type": "text", "font": "Liberation Serif", "fontWeight": "bold", "fontSize": 27, "color": "black"},
          "encoding": {"text": {"field": "label", "type": "nominal"}}
        }
      ]
    }
  ],
  "resolve": {
    "scale": {"x": "independent", "y": "independent", "shape": "independent", "fill": "independent", "stroke": "independent", "strokeDash": "independent", "strokeWidth": "independent"},
    "legend": {"shape": "independent", "fill": "independent", "stroke": "independent", "strokeDash": "independent", "strokeWidth": "independent"},
    "axis": {"x": "independent", "y": "independent"}
  },
  "config": {
    "view": {"stroke": null},
    "axis": {"grid": false, "domainColor": "black", "tickColor": "black", "labelColor": "black", "titleColor": "black", "labelFont": "Liberation Serif", "labelFontWeight": "bold", "domainWidth": 1, "tickWidth": 1}
  }
}
